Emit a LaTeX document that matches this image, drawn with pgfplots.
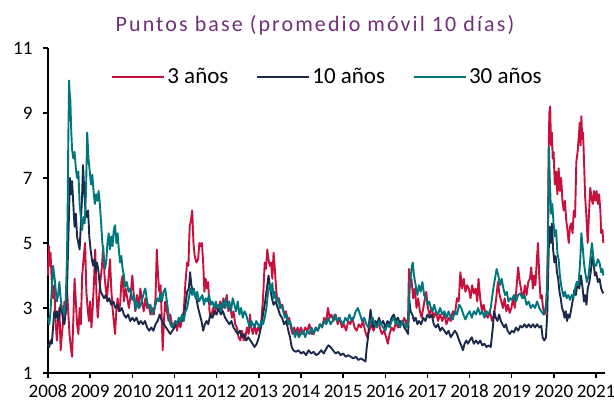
\documentclass[border=0pt]{standalone}
\usepackage{pgfplots}
\pgfplotsset{compat=1.18}
\usepackage{fontspec}
\setmainfont{Carlito}
\newfontfamily\titlefont[LetterSpace=9.5]{Carlito}
\definecolor{cRed}{RGB}{200,16,60}
\definecolor{cNavy}{RGB}{27,42,74}
\definecolor{cTeal}{RGB}{0,119,125}
\definecolor{cTitle}{RGB}{112,48,120}
\begin{document}
\begin{tikzpicture}
\node[anchor=base, text=cTitle, font=\titlefont\fontsize{22}{26}\selectfont, inner sep=0pt] at (315pt,372pt) {Puntos base (promedio móvil 10 días)};
\begin{axis}[
  at={(48pt,31pt)}, anchor=south west,
  scale only axis, width=557pt, height=325pt,
  xmin=2008, xmax=2021.21, ymin=1, ymax=11,
  axis lines*=left,
  axis line style={line width=1.6pt, black},
  xtick={2008,2009,...,2021},
  ytick={1,3,5,7,9,11},
  xticklabel style={/pgf/number format/1000 sep={}, yshift=-5.5pt, inner ysep=1pt},
  yticklabel style={xshift=-7pt},
  /pgf/number format/assume math mode=true,
  tick align=outside, major tick length=5pt,
  tick style={line width=1.4pt, black},
  ticklabel style={font=\fontsize{19}{22}\selectfont},
  legend style={at={(0.502,0.911)}, anchor=center, draw=none, fill=none,
    legend columns=3, font=\fontsize{23}{26}\selectfont,
    /tikz/every even column/.append style={column sep=26pt}},
  legend image code/.code={\draw[#1] (0pt,0pt) -- (52pt,0pt);},
  every axis plot/.append style={line width=1.9pt, line join=round},
  clip=false,
]
\addplot[cRed] table {
2008.00 4.0
2008.02 4.9
2008.04 4.3
2008.06 4.7
2008.09 3.8
2008.12 3.3
2008.15 3.7
2008.18 2.6
2008.21 2.0
2008.24 2.6
2008.27 3.0
2008.30 1.7
2008.33 2.2
2008.36 2.6
2008.39 3.2
2008.42 2.8
2008.45 3.6
2008.48 2.9
2008.51 2.2
2008.54 1.8
2008.57 1.5
2008.60 2.6
2008.63 3.9
2008.66 3.2
2008.69 2.5
2008.72 2.2
2008.75 3.0
2008.78 2.5
2008.81 4.0
2008.85 4.6
2008.88 5.0
2008.91 3.5
2008.94 3.0
2008.97 2.6
2009.00 3.2
2009.03 2.4
2009.06 3.0
2009.09 3.8
2009.12 4.8
2009.15 3.4
2009.18 2.7
2009.21 3.3
2009.24 3.8
2009.28 4.3
2009.31 4.9
2009.34 4.0
2009.37 3.6
2009.40 3.3
2009.44 4.0
2009.47 4.5
2009.50 3.6
2009.53 3.0
2009.56 2.6
2009.59 2.2
2009.62 2.9
2009.65 3.3
2009.68 2.9
2009.71 3.1
2009.74 3.8
2009.77 4.0
2009.80 3.2
2009.84 3.6
2009.88 3.3
2009.92 3.0
2009.96 3.4
2010.00 4.0
2010.04 3.3
2010.07 2.9
2010.11 3.4
2010.15 3.0
2010.19 3.6
2010.23 3.2
2010.27 2.9
2010.31 3.3
2010.35 3.0
2010.39 3.1
2010.43 2.8
2010.47 3.0
2010.51 2.8
2010.55 3.3
2010.58 4.8
2010.61 4.0
2010.64 3.5
2010.67 3.7
2010.70 2.6
2010.72 1.7
2010.75 2.6
2010.78 3.2
2010.82 2.9
2010.86 2.6
2010.90 2.8
2010.94 2.5
2010.98 2.4
2011.02 2.6
2011.06 2.3
2011.10 2.6
2011.14 2.4
2011.18 2.7
2011.22 2.9
2011.26 3.8
2011.30 4.4
2011.33 4.3
2011.36 5.5
2011.39 5.7
2011.42 6.0
2011.45 5.0
2011.48 4.6
2011.52 4.4
2011.56 4.5
2011.59 5.0
2011.62 4.9
2011.65 5.0
2011.68 4.4
2011.71 3.5
2011.74 3.9
2011.77 3.6
2011.80 3.8
2011.83 2.9
2011.87 2.7
2011.91 3.0
2011.95 2.8
2012.00 3.1
2012.04 2.9
2012.08 3.2
2012.12 2.9
2012.16 3.3
2012.20 3.0
2012.24 3.4
2012.28 2.9
2012.32 3.1
2012.36 2.7
2012.40 2.9
2012.44 2.5
2012.48 2.4
2012.52 2.1
2012.56 2.0
2012.60 2.3
2012.64 2.0
2012.68 2.1
2012.72 2.4
2012.76 2.2
2012.79 2.8
2012.82 2.4
2012.86 2.2
2012.90 2.5
2012.94 2.2
2012.98 2.4
2013.02 2.3
2013.06 2.6
2013.10 3.3
2013.14 4.4
2013.17 4.2
2013.20 4.8
2013.23 4.5
2013.26 4.3
2013.29 4.4
2013.32 3.9
2013.35 4.7
2013.38 4.2
2013.41 3.6
2013.44 3.2
2013.48 3.3
2013.52 3.0
2013.56 3.1
2013.60 2.8
2013.64 2.9
2013.68 2.6
2013.72 2.7
2013.76 2.4
2013.80 2.2
2013.84 2.4
2013.88 2.2
2013.92 2.4
2013.96 2.2
2014.00 2.4
2014.05 2.2
2014.10 2.4
2014.15 2.3
2014.20 2.5
2014.25 2.2
2014.30 2.2
2014.35 2.4
2014.40 2.3
2014.45 2.5
2014.50 2.4
2014.55 2.7
2014.60 2.6
2014.64 3.0
2014.68 2.7
2014.72 2.8
2014.77 2.6
2014.82 2.8
2014.87 2.5
2014.92 2.7
2014.97 2.4
2015.02 2.5
2015.07 2.3
2015.12 2.6
2015.17 2.5
2015.22 2.7
2015.27 2.4
2015.32 2.3
2015.37 2.5
2015.42 2.4
2015.47 2.6
2015.52 2.3
2015.57 2.1
2015.62 2.3
2015.67 2.5
2015.72 2.3
2015.77 2.5
2015.82 2.6
2015.87 2.4
2015.92 2.2
2015.97 2.3
2016.02 2.1
2016.06 1.9
2016.10 2.2
2016.15 2.4
2016.20 2.3
2016.25 2.55
2016.30 2.4
2016.35 2.6
2016.40 2.5
2016.45 2.7
2016.50 2.5
2016.54 2.7
2016.56 4.2
2016.59 3.7
2016.62 3.9
2016.66 3.3
2016.70 3.6
2016.74 3.0
2016.78 3.3
2016.82 2.9
2016.86 2.7
2016.90 3.0
2016.94 3.3
2016.97 3.5
2017.01 3.0
2017.05 2.8
2017.10 3.0
2017.15 2.7
2017.20 2.9
2017.25 2.6
2017.30 2.8
2017.35 2.6
2017.40 2.8
2017.45 2.5
2017.50 2.7
2017.55 2.6
2017.60 2.9
2017.65 2.8
2017.70 3.3
2017.74 3.2
2017.78 4.1
2017.82 3.6
2017.86 3.9
2017.90 3.5
2017.94 3.7
2017.98 3.6
2018.02 3.3
2018.06 3.7
2018.10 3.45
2018.14 3.6
2018.18 3.2
2018.21 3.9
2018.25 3.3
2018.29 2.9
2018.33 3.1
2018.38 2.8
2018.43 2.7
2018.48 2.9
2018.53 2.6
2018.58 2.8
2018.63 3.3
2018.67 3.8
2018.71 3.4
2018.75 3.2
2018.79 3.0
2018.83 3.3
2018.87 2.9
2018.91 3.1
2018.95 2.85
2018.99 3.0
2019.03 3.3
2019.07 3.0
2019.11 3.6
2019.15 4.25
2019.19 3.8
2019.23 3.5
2019.27 3.3
2019.31 3.7
2019.35 3.4
2019.39 3.8
2019.43 3.9
2019.46 4.25
2019.50 3.6
2019.53 4.0
2019.56 3.7
2019.59 4.4
2019.62 5.0
2019.65 4.0
2019.68 3.3
2019.71 3.4
2019.74 3.0
2019.78 2.8
2019.82 3.1
2019.85 4.5
2019.87 7.5
2019.89 9.0
2019.91 9.2
2019.93 8.0
2019.95 8.4
2019.97 7.6
2019.99 7.8
2020.02 6.8
2020.05 7.2
2020.08 6.5
2020.11 7.3
2020.14 6.6
2020.17 7.0
2020.20 6.3
2020.23 6.0
2020.26 6.3
2020.29 5.7
2020.32 5.4
2020.35 5.0
2020.38 5.5
2020.41 5.6
2020.44 5.3
2020.47 6.0
2020.50 5.8
2020.53 7.5
2020.56 7.8
2020.59 8.3
2020.61 8.7
2020.63 8.0
2020.65 8.9
2020.67 8.2
2020.69 8.4
2020.71 7.6
2020.74 6.4
2020.77 5.8
2020.80 5.0
2020.83 5.9
2020.86 6.7
2020.89 6.4
2020.92 6.2
2020.95 6.6
2020.98 6.3
2021.01 6.6
2021.04 6.2
2021.07 6.5
2021.10 6.0
2021.12 5.3
2021.15 5.4
2021.17 5.0
};
\addlegendentry{3 años}
\addplot[cNavy] table {
2008.00 1.9
2008.03 1.8
2008.06 2.0
2008.09 1.9
2008.12 2.4
2008.15 2.9
2008.18 2.7
2008.21 2.9
2008.24 2.6
2008.27 2.8
2008.30 3.1
2008.33 2.9
2008.36 2.6
2008.39 2.5
2008.42 2.9
2008.45 3.5
2008.48 5.0
2008.50 6.0
2008.52 7.0
2008.55 6.5
2008.57 6.9
2008.60 6.2
2008.63 5.5
2008.66 5.9
2008.69 5.2
2008.72 5.0
2008.75 4.8
2008.78 5.6
2008.81 6.5
2008.83 7.4
2008.86 6.6
2008.89 6.0
2008.92 5.8
2008.95 6.0
2008.98 5.2
2009.01 4.8
2009.04 4.5
2009.07 4.3
2009.10 4.5
2009.13 4.1
2009.16 4.4
2009.19 4.2
2009.22 3.8
2009.25 3.5
2009.29 3.4
2009.33 3.3
2009.37 3.4
2009.41 3.2
2009.45 3.3
2009.50 3.1
2009.55 3.2
2009.60 3.0
2009.65 3.1
2009.70 2.9
2009.75 3.0
2009.80 2.8
2009.85 2.7
2009.90 2.8
2009.95 2.6
2010.00 2.7
2010.05 2.6
2010.10 2.7
2010.15 2.5
2010.20 2.6
2010.25 2.5
2010.30 2.6
2010.35 2.4
2010.40 2.3
2010.45 2.4
2010.50 2.3
2010.55 2.5
2010.60 2.6
2010.65 2.8
2010.70 2.6
2010.75 2.5
2010.80 2.4
2010.85 2.3
2010.90 2.2
2010.95 2.3
2011.00 2.4
2011.05 2.5
2011.10 2.6
2011.15 2.7
2011.20 2.6
2011.25 3.0
2011.30 3.5
2011.34 3.6
2011.37 4.1
2011.40 3.7
2011.44 3.5
2011.48 3.4
2011.52 3.3
2011.56 3.0
2011.60 2.8
2011.64 2.6
2011.68 2.3
2011.72 2.5
2011.76 2.6
2011.80 2.5
2011.85 2.8
2011.90 2.7
2011.95 2.9
2012.00 2.8
2012.05 3.0
2012.10 2.8
2012.15 2.9
2012.20 2.7
2012.25 2.6
2012.30 2.5
2012.35 2.6
2012.40 2.4
2012.45 2.3
2012.50 2.2
2012.55 2.3
2012.60 2.1
2012.65 2.2
2012.70 2.0
2012.75 2.1
2012.80 2.0
2012.85 1.9
2012.90 1.8
2012.95 1.9
2013.00 2.1
2013.05 2.4
2013.10 2.8
2013.15 3.2
2013.19 3.6
2013.23 4.0
2013.27 3.6
2013.31 3.3
2013.35 3.1
2013.40 3.2
2013.45 3.0
2013.50 2.8
2013.55 2.7
2013.60 2.5
2013.65 2.6
2013.70 2.3
2013.74 2.1
2013.78 1.8
2013.82 1.7
2013.88 1.65
2013.94 1.7
2014.00 1.6
2014.06 1.65
2014.12 1.55
2014.18 1.7
2014.24 1.6
2014.30 1.65
2014.36 1.55
2014.42 1.6
2014.48 1.7
2014.54 1.6
2014.60 1.75
2014.65 1.85
2014.70 1.8
2014.76 1.7
2014.82 1.6
2014.88 1.65
2014.94 1.55
2015.00 1.6
2015.06 1.5
2015.12 1.55
2015.18 1.5
2015.24 1.45
2015.30 1.5
2015.36 1.4
2015.42 1.45
2015.48 1.4
2015.53 1.35
2015.56 1.8
2015.59 2.1
2015.62 2.6
2015.65 2.95
2015.68 2.6
2015.72 2.4
2015.76 2.6
2015.80 2.5
2015.85 2.7
2015.90 2.5
2015.95 2.6
2016.00 2.4
2016.05 2.6
2016.10 2.5
2016.15 2.7
2016.20 2.8
2016.25 2.6
2016.30 2.7
2016.35 2.5
2016.40 2.6
2016.45 2.4
2016.50 2.3
2016.54 2.2
2016.57 3.25
2016.60 2.9
2016.64 2.8
2016.68 2.6
2016.72 2.7
2016.76 2.5
2016.80 2.6
2016.85 2.5
2016.90 2.7
2016.95 2.6
2017.00 2.8
2017.05 2.7
2017.10 2.8
2017.15 2.5
2017.20 2.4
2017.25 2.5
2017.30 2.3
2017.35 2.4
2017.40 2.3
2017.45 2.2
2017.50 2.3
2017.55 2.1
2017.60 2.2
2017.65 2.3
2017.70 2.2
2017.75 2.0
2017.80 1.85
2017.84 1.7
2017.88 1.9
2017.92 2.0
2017.96 1.9
2018.00 2.0
2018.05 2.1
2018.10 1.9
2018.15 2.0
2018.20 1.9
2018.25 2.0
2018.30 1.85
2018.35 1.9
2018.40 1.8
2018.45 1.85
2018.50 1.8
2018.55 2.4
2018.58 2.9
2018.62 2.7
2018.66 2.6
2018.70 2.8
2018.74 2.6
2018.78 2.5
2018.82 2.4
2018.86 2.5
2018.90 2.3
2018.95 2.2
2019.00 2.3
2019.05 2.25
2019.10 2.4
2019.15 2.3
2019.20 2.45
2019.25 2.4
2019.30 2.5
2019.35 2.4
2019.40 2.5
2019.45 2.4
2019.50 2.5
2019.55 2.4
2019.60 2.5
2019.65 2.4
2019.70 2.45
2019.73 2.1
2019.77 2.0
2019.81 2.1
2019.84 2.8
2019.87 4.5
2019.89 5.5
2019.92 5.0
2019.95 5.6
2019.98 4.8
2020.01 4.4
2020.04 4.6
2020.07 4.1
2020.10 3.9
2020.13 3.5
2020.16 3.3
2020.19 3.0
2020.22 2.9
2020.25 2.7
2020.28 2.9
2020.31 2.6
2020.34 2.8
2020.37 2.7
2020.40 2.9
2020.44 3.2
2020.48 3.55
2020.52 3.4
2020.56 3.8
2020.60 3.6
2020.64 4.0
2020.68 3.6
2020.71 3.2
2020.74 3.4
2020.77 3.1
2020.80 3.6
2020.84 3.8
2020.88 4.2
2020.91 4.6
2020.94 4.4
2020.97 4.0
2021.00 4.1
2021.04 3.8
2021.08 3.9
2021.12 3.6
2021.15 3.5
2021.17 3.45
};
\addlegendentry{10 años}
\addplot[cTeal] table {
2008.00 2.7
2008.03 2.5
2008.06 2.9
2008.09 3.6
2008.12 4.3
2008.15 4.0
2008.18 3.6
2008.21 3.2
2008.24 3.4
2008.27 3.8
2008.30 3.3
2008.33 3.0
2008.36 2.9
2008.39 2.8
2008.42 3.2
2008.45 4.5
2008.47 6.5
2008.48 8.0
2008.50 10.0
2008.51 9.7
2008.53 9.4
2008.55 8.5
2008.57 7.9
2008.60 7.6
2008.63 7.8
2008.66 7.3
2008.69 7.0
2008.72 7.2
2008.75 6.2
2008.78 5.8
2008.81 5.4
2008.84 5.8
2008.87 5.6
2008.90 6.5
2008.93 8.4
2008.96 7.6
2008.99 7.2
2009.02 6.8
2009.05 7.1
2009.08 6.6
2009.11 6.2
2009.14 6.5
2009.17 6.3
2009.20 6.6
2009.23 6.2
2009.26 5.6
2009.29 5.0
2009.32 4.6
2009.35 4.2
2009.38 4.4
2009.41 5.0
2009.44 5.3
2009.47 4.8
2009.50 5.2
2009.53 4.9
2009.56 5.4
2009.59 5.55
2009.62 5.0
2009.65 5.3
2009.68 4.8
2009.71 4.4
2009.74 4.6
2009.77 4.2
2009.80 4.0
2009.83 3.65
2009.87 3.8
2009.91 3.5
2009.95 3.6
2010.00 3.25
2010.04 3.4
2010.08 2.95
2010.12 3.2
2010.16 3.0
2010.20 3.1
2010.24 3.3
2010.28 3.5
2010.31 3.6
2010.35 3.2
2010.39 3.0
2010.43 3.1
2010.47 2.8
2010.51 2.9
2010.55 3.1
2010.59 3.3
2010.63 3.2
2010.66 3.45
2010.70 3.2
2010.74 3.5
2010.78 3.6
2010.82 3.2
2010.86 2.8
2010.90 2.5
2010.94 2.4
2010.98 2.5
2011.02 2.6
2011.06 2.5
2011.10 2.7
2011.14 2.6
2011.18 2.8
2011.22 2.6
2011.26 2.9
2011.30 3.0
2011.34 3.3
2011.38 3.6
2011.42 3.4
2011.46 3.6
2011.50 3.3
2011.54 3.5
2011.58 3.2
2011.62 3.3
2011.66 3.4
2011.70 3.1
2011.74 3.3
2011.78 3.2
2011.82 3.4
2011.86 3.1
2011.90 3.2
2011.94 3.0
2011.98 3.2
2012.02 3.0
2012.06 3.1
2012.10 2.9
2012.14 3.2
2012.18 3.0
2012.22 3.3
2012.26 3.0
2012.30 3.2
2012.34 2.9
2012.38 3.3
2012.42 3.1
2012.46 2.9
2012.50 3.2
2012.54 2.8
2012.58 3.0
2012.62 2.7
2012.66 2.9
2012.70 2.8
2012.74 2.6
2012.78 2.4
2012.82 2.6
2012.86 2.5
2012.90 2.4
2012.94 2.6
2012.98 2.5
2013.02 2.4
2013.06 2.6
2013.10 2.5
2013.14 2.7
2013.18 3.0
2013.22 3.5
2013.26 3.7
2013.30 3.5
2013.32 3.77
2013.35 3.3
2013.38 3.5
2013.42 3.2
2013.46 3.3
2013.50 3.0
2013.54 3.1
2013.58 2.9
2013.62 2.7
2013.66 2.8
2013.70 2.5
2013.74 2.6
2013.78 2.4
2013.82 2.3
2013.86 2.1
2013.90 2.3
2013.95 2.1
2014.00 2.2
2014.05 2.3
2014.10 2.1
2014.15 2.3
2014.20 2.2
2014.25 2.4
2014.30 2.2
2014.35 2.4
2014.40 2.3
2014.45 2.5
2014.50 2.4
2014.55 2.6
2014.60 2.5
2014.65 2.7
2014.70 2.5
2014.75 2.6
2014.80 2.8
2014.85 2.6
2014.90 2.7
2014.95 2.6
2015.00 2.5
2015.05 2.7
2015.10 2.6
2015.15 2.8
2015.20 2.6
2015.25 2.7
2015.30 2.9
2015.35 3.0
2015.40 2.8
2015.45 2.6
2015.50 2.7
2015.55 2.5
2015.60 2.4
2015.65 2.6
2015.70 2.7
2015.75 2.5
2015.80 2.4
2015.85 2.6
2015.90 2.5
2015.95 2.4
2016.00 2.3
2016.05 2.5
2016.10 2.4
2016.15 2.6
2016.20 2.7
2016.25 2.5
2016.30 2.6
2016.35 2.4
2016.40 2.6
2016.45 2.5
2016.50 2.4
2016.54 2.5
2016.58 3.6
2016.62 4.2
2016.65 4.4
2016.68 4.0
2016.72 3.7
2016.76 3.4
2016.80 3.7
2016.84 3.5
2016.88 3.8
2016.92 3.4
2016.96 3.3
2017.00 3.1
2017.04 3.2
2017.08 3.0
2017.12 2.9
2017.16 3.1
2017.20 2.9
2017.25 2.8
2017.30 3.0
2017.35 2.8
2017.40 2.9
2017.45 2.7
2017.50 2.9
2017.55 2.7
2017.60 2.65
2017.65 2.9
2017.70 2.8
2017.75 3.1
2017.80 3.0
2017.85 2.8
2017.90 2.65
2017.95 2.8
2018.00 2.9
2018.05 2.7
2018.10 2.9
2018.15 2.8
2018.20 3.0
2018.25 2.8
2018.30 2.9
2018.35 2.7
2018.40 2.9
2018.45 2.8
2018.50 3.0
2018.55 3.5
2018.60 3.9
2018.64 4.2
2018.68 4.0
2018.72 3.7
2018.76 3.9
2018.80 3.6
2018.84 3.4
2018.88 3.5
2018.92 3.2
2018.96 3.3
2019.00 3.25
2019.05 3.4
2019.10 3.2
2019.15 3.4
2019.20 3.45
2019.25 3.3
2019.30 3.4
2019.35 3.1
2019.40 3.2
2019.45 3.0
2019.50 3.1
2019.55 3.0
2019.60 3.2
2019.65 3.0
2019.70 2.9
2019.75 2.8
2019.80 3.0
2019.84 3.6
2019.86 5.0
2019.88 7.95
2019.90 7.0
2019.93 5.9
2019.96 6.2
2019.99 5.6
2020.02 5.2
2020.05 5.4
2020.08 4.7
2020.11 4.5
2020.14 4.0
2020.17 3.7
2020.20 3.5
2020.23 3.35
2020.26 3.5
2020.30 3.3
2020.34 3.4
2020.38 3.25
2020.42 3.4
2020.46 3.3
2020.50 3.6
2020.54 3.8
2020.58 3.7
2020.62 4.4
2020.65 5.3
2020.68 4.9
2020.71 4.4
2020.74 4.1
2020.78 3.8
2020.82 4.0
2020.86 4.5
2020.90 5.0
2020.93 4.6
2020.96 4.3
2021.00 4.3
2021.04 4.5
2021.08 4.4
2021.12 4.1
2021.15 4.2
2021.17 4.0
};
\addlegendentry{30 años}
\end{axis}
\pgfresetboundingbox
\path[use as bounding box] (0pt,0pt) rectangle (614pt,404pt);
\end{tikzpicture}
\end{document}
